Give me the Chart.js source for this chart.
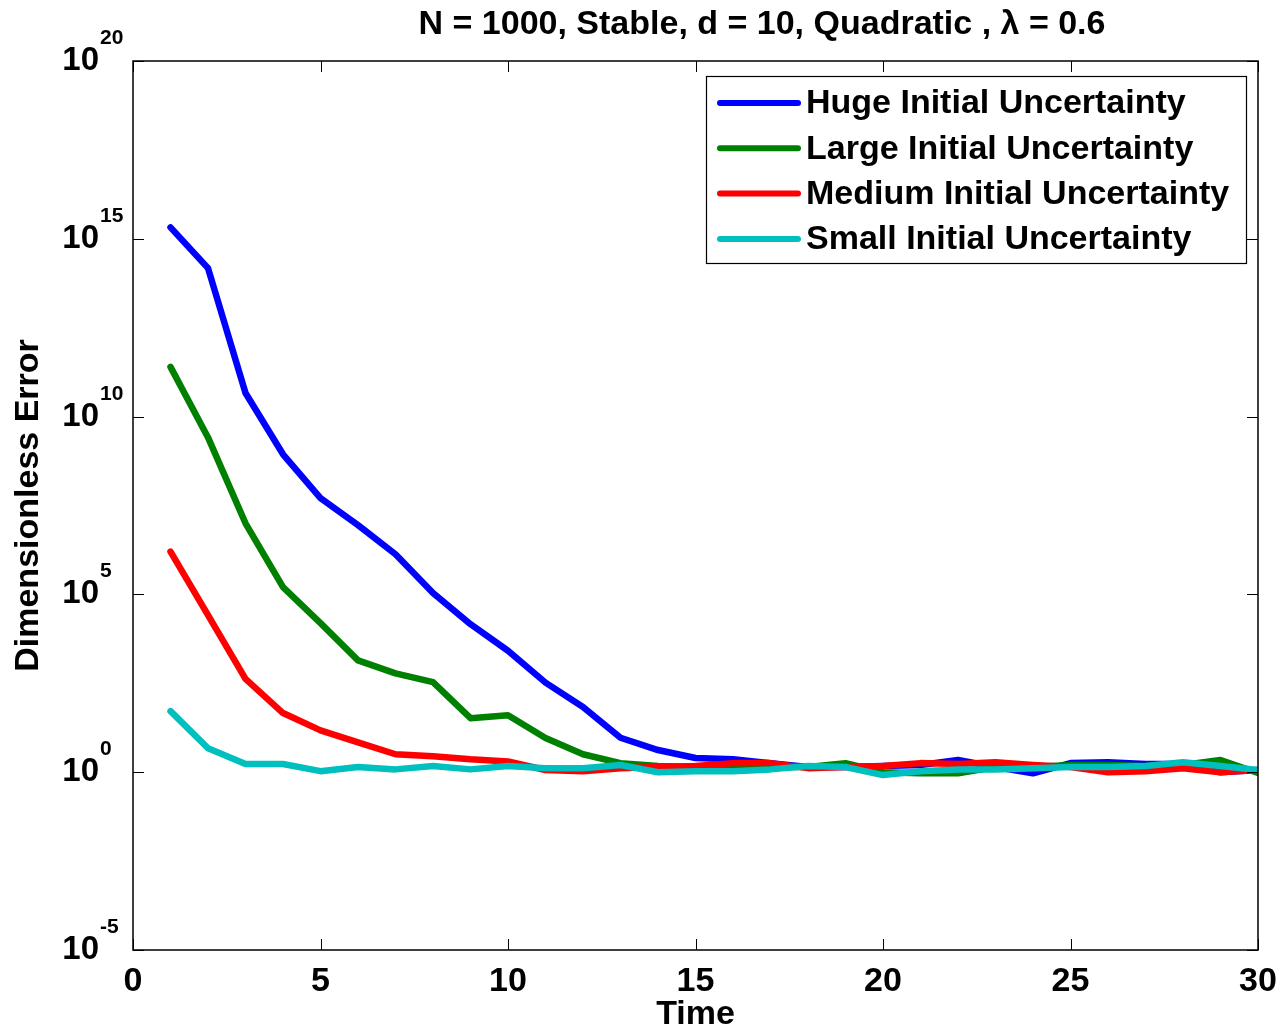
<!DOCTYPE html>
<html><head><meta charset="utf-8">
<script src="https://cdn.jsdelivr.net/npm/chart.js@4/dist/chart.umd.min.js"></script>
<style>html,body{margin:0;padding:0;background:#fff}#wrap{width:1283px;height:1035px}</style>
</head><body><div id="wrap"><canvas id="c" width="1283" height="1035"></canvas></div>
<script>
const timeSteps = [1,2,3,4,5,6,7,8,9,10,11,12,13,14,15,16,17,18,19,20,21,22,23,24,25,26,27,28,29,30];
const hugeErr = [2.1e15,1.5e14,4.6e10,8.7e8,5.1e7,8.9e6,1.35e6,1.1e5,1.45e4,2.6e3,330,68,9.3,4.2,2.5,2.3,1.8,1.4,1.4,1.5,1.6,2.2,1.4,0.93,1.8,1.9,1.7,1.7,1.0,1.15];
const largeErr = [2.5e11,2.6e9,1.0e7,1.6e5,1.55e4,1.4e3,600,340,33,40,9.1,3.2,1.8,1.5,1.4,1.4,1.4,1.4,1.8,1.0,0.93,0.93,1.4,1.4,1.6,1.6,1.5,1.6,2.2,0.95];
const mediumErr = [1.6e6,2.6e4,420,46,15,6.9,3.2,2.8,2.3,2.0,1.15,1.07,1.3,1.4,1.5,1.8,1.8,1.3,1.4,1.5,1.8,1.7,1.9,1.6,1.4,1.0,1.07,1.3,1.0,1.15];
const smallErr = [52,4.7,1.7,1.7,1.07,1.4,1.2,1.5,1.2,1.5,1.3,1.3,1.6,1.0,1.07,1.07,1.2,1.5,1.4,0.83,1.07,1.2,1.2,1.3,1.4,1.4,1.5,1.9,1.5,1.15];
const seriesLabels = ['Huge Initial Uncertainty','Large Initial Uncertainty','Medium Initial Uncertainty','Small Initial Uncertainty'];
const seriesColors = ['#0000ff','#008000','#ff0000','#00bfbf'];
const xTicks = [0,5,10,15,20,25,30];
const yTickExps = [-5,0,5,10,15,20];
const chartTitle = 'N = 1000, Stable, d = 10, Quadratic , \u03bb = 0.6';

const FONT = '"Liberation Sans", Arial, Helvetica, sans-serif';
const seriesData = [hugeErr, largeErr, mediumErr, smallErr];

const framePlugin = {
  id: 'frame',
  afterDraw(chart) {
    const ctx = chart.ctx, a = chart.chartArea;
    const xs = chart.scales.x, ys = chart.scales.y;
    ctx.save();
    // title
    ctx.fillStyle = '#000';
    ctx.font = 'bold 34px ' + FONT;
    ctx.textAlign = 'center'; ctx.textBaseline = 'middle';
    ctx.fillText(chartTitle, 762, 25);
    ctx.strokeStyle = '#000'; ctx.lineWidth = 1.5;
    ctx.strokeRect(a.left, a.top, a.right - a.left, a.bottom - a.top);
    ctx.lineWidth = 1;
    const tl = 11;
    xTicks.forEach(v => {
      const px = Math.round(xs.getPixelForValue(v)) + 0.5;
      ctx.beginPath(); ctx.moveTo(px, a.bottom); ctx.lineTo(px, a.bottom - tl);
      ctx.moveTo(px, a.top); ctx.lineTo(px, a.top + tl); ctx.stroke();
    });
    yTickExps.forEach(e => {
      const py = Math.round(ys.getPixelForValue(Math.pow(10, e))) + 0.5;
      ctx.beginPath(); ctx.moveTo(a.left, py); ctx.lineTo(a.left + tl, py);
      ctx.moveTo(a.right, py); ctx.lineTo(a.right - tl, py); ctx.stroke();
      ctx.fillStyle = '#000';
      ctx.textBaseline = 'middle';
      ctx.textAlign = 'right';
      ctx.font = 'bold 33px ' + FONT;
      ctx.fillText('10', 99, py - 1);
      ctx.textAlign = 'left';
      ctx.font = 'bold 21px ' + FONT;
      ctx.fillText(String(e), 100, py - 23);
    });
    // legend
    const lx = 706, ly = 76, lw = 540, lh = 187;
    ctx.fillStyle = '#fff';
    ctx.fillRect(lx, ly, lw, lh);
    ctx.strokeStyle = '#000'; ctx.lineWidth = 1.2;
    ctx.strokeRect(lx + 0.5, ly + 0.5, lw, lh);
    ctx.font = 'bold 34px ' + FONT;
    ctx.textAlign = 'left'; ctx.textBaseline = 'middle';
    seriesLabels.forEach((lab, i) => {
      const yy = 103 + i * 45.3;
      ctx.strokeStyle = seriesColors[i]; ctx.lineWidth = 6; ctx.lineCap = 'round';
      ctx.beginPath(); ctx.moveTo(720, yy); ctx.lineTo(798, yy); ctx.stroke();
      ctx.fillStyle = '#000';
      ctx.fillText(lab, 806, yy + 1);
    });
    ctx.restore();
  }
};

new Chart(document.getElementById('c'), {
  type: 'line',
  data: {
    labels: timeSteps,
    datasets: seriesData.map((d, i) => ({
      label: seriesLabels[i],
      data: d.map((v, j) => ({x: timeSteps[j], y: v})),
      borderColor: seriesColors[i],
      backgroundColor: seriesColors[i],
      borderWidth: 6.5,
      pointRadius: 0,
      tension: 0,
      fill: false,
      borderCapStyle: 'round',
      borderJoinStyle: 'round',
      order: 4 - i
    }))
  },
  options: {
    responsive: false,
    animation: false,
    devicePixelRatio: 1,
    layout: { padding: { left: 0, right: 25, top: 61, bottom: 0 } },
    plugins: {
      legend: { display: false },
      tooltip: { enabled: false },
      title: { display: false }
    },
    scales: {
      x: {
        type: 'linear', min: 0, max: 30,
        grid: { display: false, drawTicks: false },
        border: { display: false },
        afterBuildTicks: s => { s.ticks = xTicks.map(v => ({value: v})); },
        afterFit: s => { s.height = 85; s.paddingLeft = 0; s.paddingRight = 0; },
        ticks: { color: '#000', padding: 11, maxRotation: 0, font: { family: FONT, size: 34, weight: 'bold' } },
        title: { display: true, text: 'Time', color: '#000', padding: 0, font: { family: FONT, size: 34, weight: 'bold' } }
      },
      y: {
        type: 'logarithmic', min: 1e-5, max: 1e20,
        grid: { display: false, drawTicks: false },
        border: { display: false },
        afterBuildTicks: s => { s.ticks = yTickExps.map(e => ({value: Math.pow(10, e)})); },
        afterFit: s => { s.width = 133; s.paddingTop = 0; s.paddingBottom = 0; },
        ticks: { display: true, callback: () => '', font: { family: FONT, size: 12, weight: 'bold' } },
        title: { display: true, text: 'Dimensionless Error', color: '#000', padding: { top: 8, bottom: 0 }, font: { family: FONT, size: 34, weight: 'bold' } }
      }
    }
  },
  plugins: [framePlugin]
});
</script>
</body></html>
